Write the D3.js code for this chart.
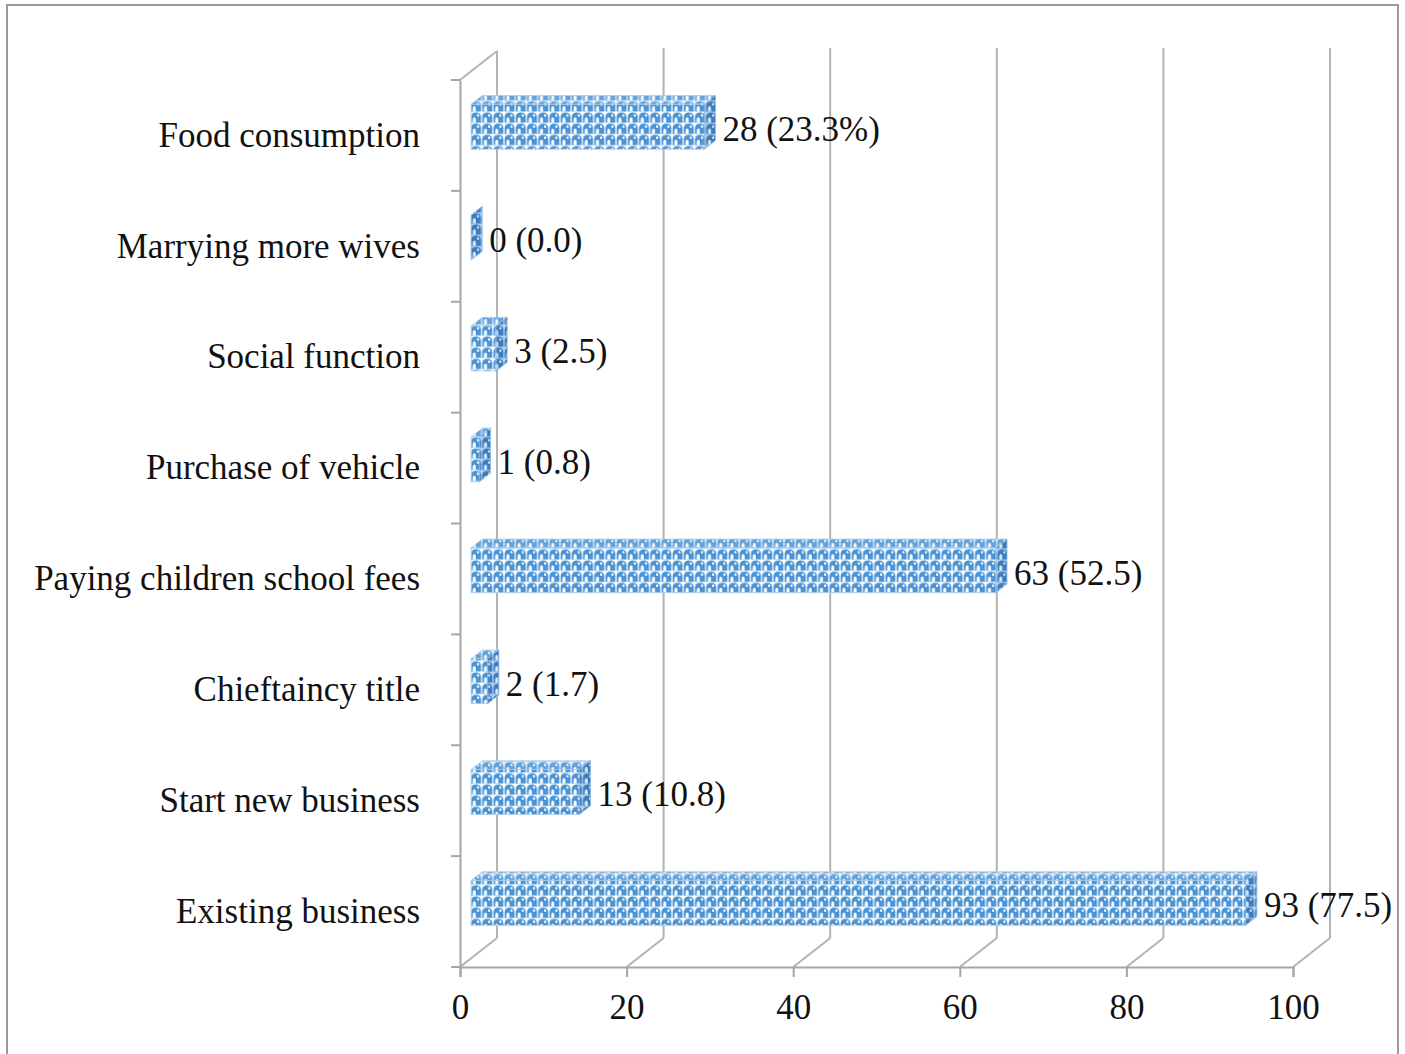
<!DOCTYPE html>
<html>
<head>
<meta charset="utf-8">
<script src="https://cdn.jsdelivr.net/npm/d3@7"></script>
<style>
  html, body { margin: 0; padding: 0; background: #fff; }
  svg { display: block; }
  text { font-family: "Liberation Serif", "Times New Roman", serif; }
</style>
</head>
<body>
<svg id="chart" width="1405" height="1054"></svg>
<script>
// Uses of funds, listed from top to bottom
const categories = [
  "Food consumption",
  "Marrying more wives",
  "Social function",
  "Purchase of vehicle",
  "Paying children school fees",
  "Chieftaincy title",
  "Start new business",
  "Existing business"
];
const counts = [28, 0, 3, 1, 63, 2, 13, 93];
const percents = ["23.3%", "0.0", "2.5", "0.8", "52.5", "1.7", "10.8", "77.5"];
const xTicks = [0, 20, 40, 60, 80, 100];

const FONT = 35;
const svg = d3.select("#chart");

// Outer frame
svg.append("rect")
  .attr("x", 7).attr("y", 5).attr("width", 1391).attr("height", 1080)
  .attr("fill", "none").attr("stroke", "#9a9a9a").attr("stroke-width", 2);

// Front-plane scales and the oblique depth vector of the 3-D box
const x = d3.scaleLinear().domain([0, 100]).range([460, 1293]);
const y = d3.scaleBand().domain(categories).range([80, 967]);
const DX = 37, DY = -29;          // full depth offset
const d0 = 0.3, dt = 0.3;         // bar starts at 30% depth, 30% deep
const floorY = y.range()[1];
const topY = y.range()[0];

const grid = svg.append("g").attr("stroke", "#b3b3b3").attr("stroke-width", 2).attr("fill", "none");

// Back-wall gridlines and floor diagonals
xTicks.forEach(t => {
  const fx = x(t);
  grid.append("line")
    .attr("x1", fx + DX).attr("y1", floorY + DY)
    .attr("x2", fx + DX).attr("y2", topY + DY - (t === 0 ? 0 : 3));
  grid.append("line")
    .attr("x1", fx).attr("y1", floorY)
    .attr("x2", fx + DX).attr("y2", floorY + DY);
});
// Left wall top edge
grid.append("line")
  .attr("x1", x(0)).attr("y1", topY)
  .attr("x2", x(0) + DX).attr("y2", topY + DY);

// Patterns for bar faces
const defs = svg.append("defs");
function makePattern(id, bg, blob, dot) {
  const p = defs.append("pattern")
    .attr("id", id).attr("patternUnits", "userSpaceOnUse")
    .attr("width", 11.2).attr("height", 11.2);
  p.append("rect").attr("width", 11.2).attr("height", 11.2).attr("fill", bg);
  p.append("path")
    .attr("d", "M0.6,10.8 L0.6,4.8 Q0.6,0.4 5.6,0.4 Q10.6,0.4 10.6,4.8 L10.6,10.8 Z")
    .attr("fill", blob);
  p.append("path")
    .attr("d", "M2.4,10.8 L2.4,7.6 Q2.4,5.4 4,5.4 Q5.4,5.4 5.4,7.6 L5.4,10.8 Z")
    .attr("fill", dot);
  p.append("ellipse")
    .attr("cx", 7.6).attr("cy", 3.4).attr("rx", 1.1).attr("ry", 1.2)
    .attr("fill", dot);
}
makePattern("patFront", "#ffffff", "#4c93d4", "#ffffff");
makePattern("patTop", "#e3eef9", "#64a2da", "#f4f9fe");
makePattern("patSide", "#b4d0ec", "#3c7cbf", "#dbe9f7");

// Bars
const bh = y.bandwidth() * 0.405;
const bars = svg.append("g");
categories.forEach((c, i) => {
  const v = counts[i];
  const x0 = x(0) + d0 * DX;
  const x1 = x(v) + d0 * DX;
  const yt = y(c) + (y.bandwidth() - bh) / 2 + d0 * DY;
  const ox = dt * DX, oy = dt * DY;
  const g = bars.append("g");
  // top face
  g.append("polygon")
    .attr("points", [[x0, yt], [x1, yt], [x1 + ox, yt + oy], [x0 + ox, yt + oy]].join(" "))
    .attr("fill", "url(#patTop)").attr("stroke", "#a9cbea").attr("stroke-width", 0.8);
  // front face
  if (v > 0) {
    g.append("rect")
      .attr("x", x0).attr("y", yt).attr("width", x1 - x0).attr("height", bh)
      .attr("fill", "url(#patFront)").attr("stroke", "#a9cbea").attr("stroke-width", 0.8);
  }
  // right face
  g.append("polygon")
    .attr("points", [[x1, yt], [x1 + ox, yt + oy], [x1 + ox, yt + oy + bh], [x1, yt + bh]].join(" "))
    .attr("fill", "url(#patSide)").attr("stroke", "#8fb8e0").attr("stroke-width", 0.8);
  // value label
  svg.append("text")
    .attr("x", x1 + ox + 7).attr("y", yt + bh / 2 + 3)
    .attr("dominant-baseline", "central")
    .attr("font-size", FONT).attr("fill", "#111")
    .text(`${v} (${percents[i]})`);
});

// Bottom value axis on the front floor
const xAxis = svg.append("g")
  .attr("transform", `translate(0,${floorY})`)
  .call(d3.axisBottom(x).tickValues(xTicks).tickSize(10).tickPadding(17).tickFormat(d3.format("d")));
xAxis.select(".domain").attr("stroke", "#a6a6a6").attr("stroke-width", 2);
xAxis.selectAll(".tick line").attr("stroke", "#a6a6a6").attr("stroke-width", 2);
xAxis.selectAll(".tick text")
  .attr("font-family", "Liberation Serif, Times New Roman, serif")
  .attr("font-size", FONT).attr("fill", "#111");

// Left category axis: labels at band centres, ticks at band edges
const yAxis = svg.append("g")
  .attr("transform", `translate(${x(0)},0)`)
  .call(d3.axisLeft(y).tickSize(0).tickPadding(40));
yAxis.select(".domain").attr("stroke", "#a6a6a6").attr("stroke-width", 2);
yAxis.selectAll(".tick text")
  .attr("font-family", "Liberation Serif, Times New Roman, serif")
  .attr("font-size", FONT).attr("fill", "#111");
const edges = categories.map(c => y(c)).concat([floorY]);
yAxis.selectAll(".edge").data(edges).join("line")
  .attr("class", "edge")
  .attr("x1", -9).attr("x2", 0)
  .attr("y1", d => d).attr("y2", d => d)
  .attr("stroke", "#a6a6a6").attr("stroke-width", 2);
</script>
</body>
</html>
